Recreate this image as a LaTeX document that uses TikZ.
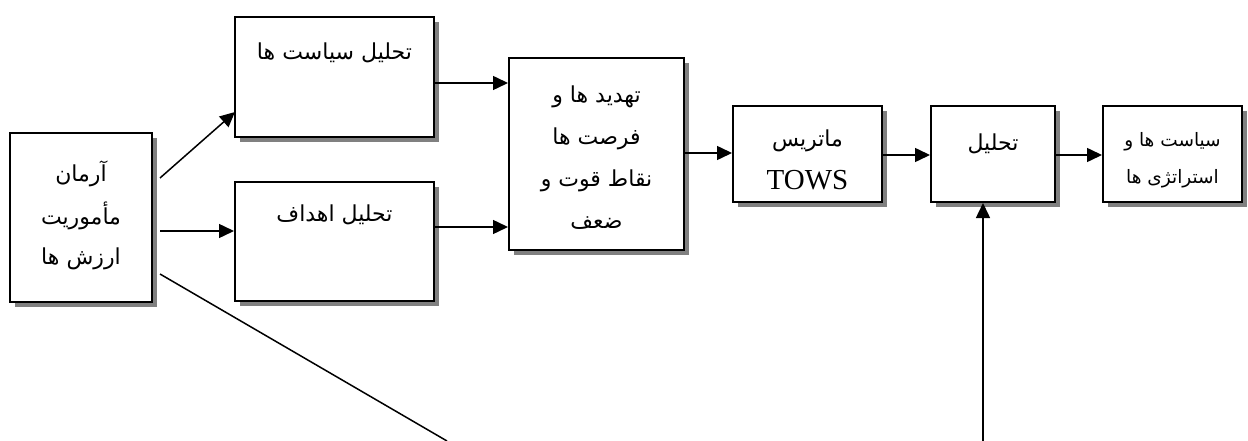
\documentclass[tikz,border=0pt]{standalone}
\usepackage{fontspec}
\newfontfamily\fa[Script=Arabic]{DejaVu Sans}
\newfontfamily\tnr{Liberation Serif}
\TeXXeTstate=1
\usetikzlibrary{arrows.meta,shadows}
\begin{document}
\begin{tikzpicture}[x=1pt,y=-1pt,
  box/.style={draw=black,line width=2pt,fill=white,rectangle,inner sep=0pt,
    general shadow={shadow xshift=5pt,shadow yshift=-5pt,fill=black!50}},
  txt/.style={font=\fa\fontsize{22}{42}\selectfont,inner sep=0pt},
  stxt/.style={font=\fa\fontsize{18.5}{30}\selectfont,inner sep=0pt},
  arr/.style={line width=1.5pt,-{Triangle[length=15pt,width=14pt]}},
  ln/.style={line width=1.5pt}]
\useasboundingbox (0,0) rectangle (1248,441);
% boxes
\node[box,minimum width=142pt,minimum height=169pt] (L) at (81,217.5) {};
\node[box,minimum width=199pt,minimum height=120pt] (P) at (334.5,77) {};
\node[box,minimum width=199pt,minimum height=119pt] (G) at (334.5,241.5) {};
\node[box,minimum width=175pt,minimum height=192pt] (B) at (596.5,154) {};
\node[box,minimum width=149pt,minimum height=96pt] (T) at (807.5,154) {};
\node[box,minimum width=124pt,minimum height=96pt] (A) at (993,154) {};
\node[box,minimum width=139pt,minimum height=96pt] (S) at (1172.5,154) {};
% texts
\node[txt] (l1) at (81,174) {\beginR آرمان\endR};
\node[txt] (l2) at (81,216) {\beginR مأموریت\endR};
\node[txt] (l3) at (81,259) {\beginR ارزش ها\endR};
\node[txt] (p1) at (334.5,53) {\beginR تحلیل سیاست ها\endR};
\node[txt] (g1) at (334.5,215) {\beginR تحلیل اهداف\endR};
\node[txt] (b1) at (596.5,97) {\beginR تهدید ها و\endR};
\node[txt] (b2) at (596.5,139) {\beginR فرصت ها\endR};
\node[txt] (b3) at (596.5,181) {\beginR نقاط قوت و\endR};
\node[txt] (b4) at (596.5,223) {\beginR ضعف\endR};
\node[txt] (t1) at (807.5,141) {\beginR ماتریس\endR};
\node[font=\tnr\fontsize{29}{30}\selectfont,inner sep=0pt] (t2) at (807.5,180) {TOWS};
\node[txt] (a1) at (993,144) {\beginR تحلیل\endR};
\node[stxt] (s1) at (1172.5,142) {\beginR سیاست ها و\endR};
\node[stxt] (s2) at (1172.5,179) {\beginR استراتژی ها\endR};
% connector ends
\coordinate (c1) at (160,178);
\coordinate (c2) at (160,231);
\coordinate (c3) at (160,274);
\coordinate (c4) at (447,441);
\coordinate (c5) at (983,441);
\coordinate (e1) at (235,112);
\draw[arr] (c1) -- (e1);
\draw[arr] (c2) -- (G.west |- c2);
\draw[ln] (c3) -- (c4);
\draw[arr] (P.east |- 0,83) -- (B.west |- 0,83);
\draw[arr] (G.east |- 0,227) -- (B.west |- 0,227);
\draw[arr] (B.east |- 0,153) -- (T.west |- 0,153);
\draw[arr] (T.east |- 0,155) -- (A.west |- 0,155);
\draw[arr] (A.east |- 0,155) -- (S.west |- 0,155);
\draw[arr] (c5) -- (A.south -| c5);
\end{tikzpicture}
\end{document}
